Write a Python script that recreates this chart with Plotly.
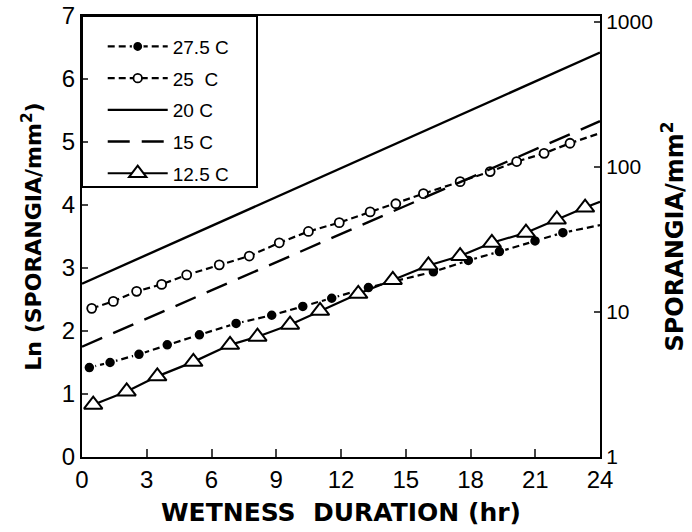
import numpy as np
import plotly.graph_objects as go

# ---- data ----
hr_20 = [0, 24]
ln_20 = [2.75, 6.42]

hr_15 = [0, 24]
ln_15 = [1.75, 5.33]

hr_25 = [0.45, 1.45, 2.53, 3.69, 4.85, 6.36, 7.75, 9.14, 10.49, 11.92, 13.35,
         14.54, 15.82, 17.52, 18.91, 20.14, 21.41, 22.61, 24]
ln_25 = [2.36, 2.47, 2.63, 2.74, 2.89, 3.05, 3.19, 3.40, 3.58, 3.72, 3.89,
         4.02, 4.18, 4.37, 4.53, 4.69, 4.82, 4.98, 5.14]

hr_275 = [0.34, 1.30, 2.64, 3.95, 5.44, 7.14, 8.79, 10.23, 11.57, 13.27,
          16.28, 17.90, 19.34, 20.99, 22.28, 24]
ln_275 = [1.42, 1.50, 1.63, 1.78, 1.94, 2.12, 2.25, 2.39, 2.52, 2.69,
          2.94, 3.12, 3.26, 3.43, 3.56, 3.68]

hr_125 = [0.52, 2.07, 3.49, 5.16, 6.86, 8.13, 9.64, 11.03, 12.80, 14.40,
          16.05, 17.52, 18.99, 20.57, 22.0, 23.31, 24]
ln_125 = [0.83, 1.04, 1.28, 1.51, 1.78, 1.91, 2.10, 2.32, 2.59, 2.81,
          3.04, 3.19, 3.40, 3.56, 3.77, 3.96, 4.05]

x_ticks = [0, 3, 6, 9, 12, 15, 18, 21, 24]
y_ticks = [0, 1, 2, 3, 4, 5, 6, 7]
y2_ticks = [1, 10, 100, 1000]

FONT = "Liberation Sans"
TFONT = "DejaVu Sans"

def sizes(n, s):
    # last point is only the line's end at the axis, without a marker
    return [s] * (n - 1) + [0]

fig = go.Figure()

fig.add_trace(go.Scatter(
    x=hr_275, y=ln_275, name="27.5 C", mode="lines+markers",
    line=dict(color="black", width=2.2, dash="7px,4px"),
    marker=dict(symbol="circle", size=sizes(len(hr_275), 11), color="black",
                opacity=1, line=dict(color="white", width=1.5)),
    legendgroup="a"))

fig.add_trace(go.Scatter(
    x=hr_25, y=ln_25, name="25  C", mode="lines+markers",
    line=dict(color="black", width=2.2, dash="7px,4px"),
    marker=dict(symbol="circle", size=sizes(len(hr_25), 9), color="white",
                opacity=1, line=dict(color="black", width=1.8)),
    legendgroup="b"))

fig.add_trace(go.Scatter(
    x=hr_20, y=ln_20, name="20 C", mode="lines",
    line=dict(color="black", width=2.4),
    legendgroup="c"))

fig.add_trace(go.Scatter(
    x=hr_15, y=ln_15, name="15 C", mode="lines",
    line=dict(color="black", width=2.4, dash="22px,12px"),
    legendgroup="d"))

fig.add_trace(go.Scatter(
    x=hr_125, y=ln_125, name="12.5 C", mode="lines+markers",
    line=dict(color="black", width=2.2),
    marker=dict(symbol="triangle-up", size=sizes(len(hr_125), 16), color="white",
                opacity=1, line=dict(color="black", width=2)),
    legendgroup="e"))

# invisible trace that anchors the right-hand log axis
fig.add_trace(go.Scatter(
    x=hr_20, y=list(np.exp(ln_20)), yaxis="y2", mode="lines",
    line=dict(color="rgba(0,0,0,0)"), showlegend=False, hoverinfo="skip"))

fig.update_layout(
    width=692, height=532,
    margin=dict(l=82, r=92, t=16, b=75, autoexpand=False),
    paper_bgcolor="white", plot_bgcolor="white",
    font=dict(family=FONT, color="black"),
    showlegend=True,
    legend=dict(
        x=0.04, y=0.985 - 5 / 441, xanchor="left", yanchor="top",
        bgcolor="rgba(0,0,0,0)", borderwidth=0,
        font=dict(size=19, family=FONT),
        traceorder="grouped", tracegroupgap=4, itemwidth=60,
    ),
    xaxis=dict(
        range=[0, 24], tickvals=x_ticks, ticks="inside", ticklen=8, tickwidth=2,
        showline=True, linecolor="black", linewidth=2, mirror=True,
        showgrid=False, zeroline=False, automargin=False,
        tickfont=dict(size=24, family=FONT),
        title=dict(text="<b>WETNESS  DURATION (hr)</b>",
                   font=dict(size=25, family=TFONT), standoff=12),
    ),
    yaxis=dict(
        range=[0, 7], tickvals=y_ticks, ticks="inside", ticklen=6, tickwidth=2,
        showline=True, linecolor="black", linewidth=2, mirror=True,
        showgrid=False, zeroline=False, automargin=False,
        tickfont=dict(size=24, family=FONT),
        title=dict(text="<b>Ln (SPORANGIA/mm<sup>2</sup>)</b>",
                   font=dict(size=22, family=TFONT), standoff=14),
    ),
    yaxis2=dict(
        type="log", overlaying="y", side="right",
        range=[0, 7 / np.log(10)], tickvals=y2_ticks, ticktext=[str(v) for v in y2_ticks],
        ticks="inside", ticklen=6, tickwidth=2,
        showline=True, linecolor="black", linewidth=2,
        showgrid=False, zeroline=False, automargin=False,
        tickfont=dict(size=21, family=FONT),
        title=dict(text="<b>SPORANGIA/mm<sup>2</sup></b>",
                   font=dict(size=24, family=TFONT), standoff=14),
    ),
    shapes=[dict(type="rect", xref="paper", yref="paper",
                 x0=0, x1=175 / 518, y0=(457 - 187) / 441, y1=1,
                 line=dict(color="black", width=2), fillcolor="rgba(0,0,0,0)")],
)

fig.write_html("out.html", config={"displayModeBar": False},
               post_script="document.body.style.margin='0';document.body.style.padding='0';")
